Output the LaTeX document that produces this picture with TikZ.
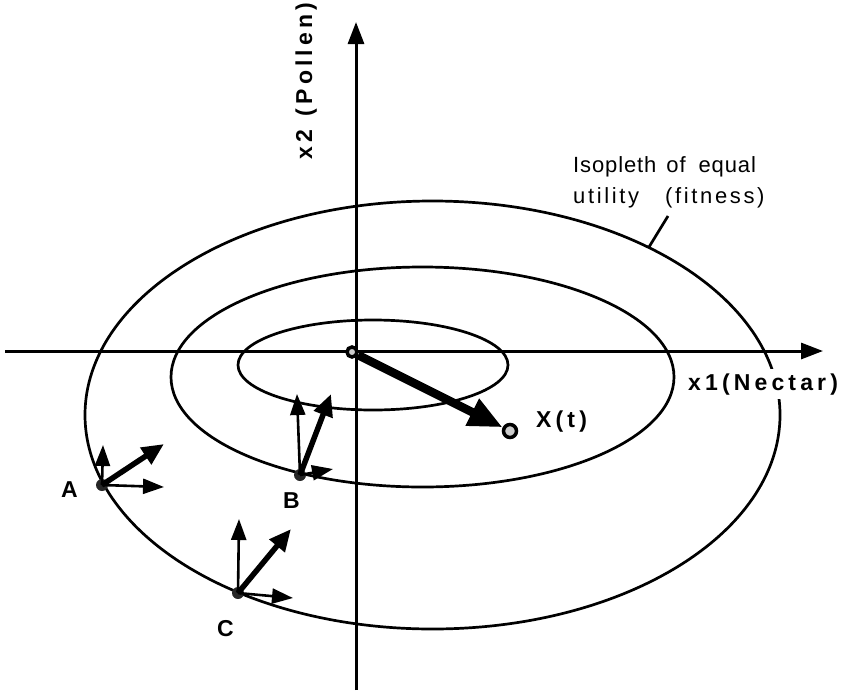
\documentclass[tikz,border=0pt]{standalone}
\usepackage{fontspec}
\setmainfont{Liberation Sans}
\usetikzlibrary{arrows.meta}
\begin{document}
\begin{tikzpicture}[x=1pt,y=-1pt,
  curve/.style={line width=2.7pt},
  axisline/.style={line width=3pt,-{Triangle[length=22pt,width=16pt]}},
  thinvec/.style={line width=2.6pt,-{Triangle[length=21pt,width=15pt]}},
  thickvec/.style={line width=5.5pt,-{Triangle[length=22pt,width=19pt]}},
  mainvec/.style={line width=8.5pt,-{Triangle[length=34pt,width=28pt]}},
  dotpt/.style={circle,fill=black!85,inner sep=0pt,minimum size=12pt},
  ringpt/.style={circle,draw,line width=3.5pt,fill=gray!40,inner sep=0pt,minimum size=#1},
  boldlab/.style={font=\fontsize{23}{26}\selectfont\bfseries\addfontfeature{LetterSpace=18},inner sep=0pt},
  ptlab/.style={font=\fontsize{23}{26}\selectfont\bfseries,inner sep=0pt},
  notelab/.style={font=\fontsize{22}{26}\selectfont\addfontfeature{LetterSpace=#1},inner sep=0pt,anchor=base west},
]
\useasboundingbox (0,0) rectangle (842,699);
% axes
\coordinate (xs) at (5,351);
\coordinate (xe) at (823,351);
\coordinate (ys) at (356,690);
\coordinate (ye) at (356,22);
\draw[axisline] (xs) -- (xe);
\draw[axisline] (ys) -- (ye);
% isopleths
\coordinate (E1) at (432.5,415);
\coordinate (E2) at (422.5,377);
\coordinate (E3) at (373,365);
\draw[curve] (E1) ellipse [x radius=347.5pt, y radius=214pt];
\draw[curve] (E2) ellipse [x radius=251.5pt, y radius=110pt];
\draw[curve] (E3) ellipse [x radius=135pt, y radius=45pt];
% axis labels
\node[boldlab,anchor=base west,fill=white,inner sep=4pt] (x1lab) at (684,390) {x1(Nectar)};
\node[boldlab,anchor=base west,rotate=90] (x2lab) at (312,160) {x2\hspace*{14pt}(Pollen)};
% isopleth note
\node[notelab=4] (note1) at (573,172) {Isopleth\hspace{10pt}of\hspace{13pt}equal};
\node[notelab=12] (note2) at (573,203) {utility\hspace{26pt}(fitness)};
\coordinate (p1) at (649,247);
\coordinate (p2) at (668,216);
\draw[curve] (p1) -- (p2);
% main vector
\node[ringpt=10pt] (O) at (352,352) {};
\node[ringpt=13pt] (X) at (510,431) {};
\draw[mainvec] (O) -- (X);
\node[boldlab,anchor=base west] (Xlab) at (536,427) {X(t)};
% point A
\node[dotpt] (A) at (102,485) {};
\coordinate (Au) at (103,445);
\coordinate (Ad) at (164,444);
\coordinate (Ar) at (164,487);
\draw[thinvec] (A.center) -- (Au);
\draw[thinvec] (A.center) -- (Ar);
\draw[thickvec] (A.center) -- (Ad);
\node[ptlab,anchor=base west] (Alab) at (61,497) {A};
% point B
\node[dotpt] (B) at (300,475) {};
\coordinate (Bu) at (297,394);
\coordinate (Bd) at (331,394);
\coordinate (Br) at (333,469);
\draw[thinvec] (B.center) -- (Bu);
\draw[thinvec] (B.center) -- (Br);
\draw[thickvec] (B.center) -- (Bd);
\node[ptlab,anchor=base west] (Blab) at (283,508) {B};
% point C
\node[dotpt] (C) at (238,593) {};
\coordinate (Cu) at (239,519);
\coordinate (Cd) at (291,529);
\coordinate (Cr) at (293,598);
\draw[thinvec] (C.center) -- (Cu);
\draw[thinvec] (C.center) -- (Cr);
\draw[thickvec] (C.center) -- (Cd);
\node[ptlab,anchor=base west] (Clab) at (217,636) {C};
\end{tikzpicture}
\end{document}
